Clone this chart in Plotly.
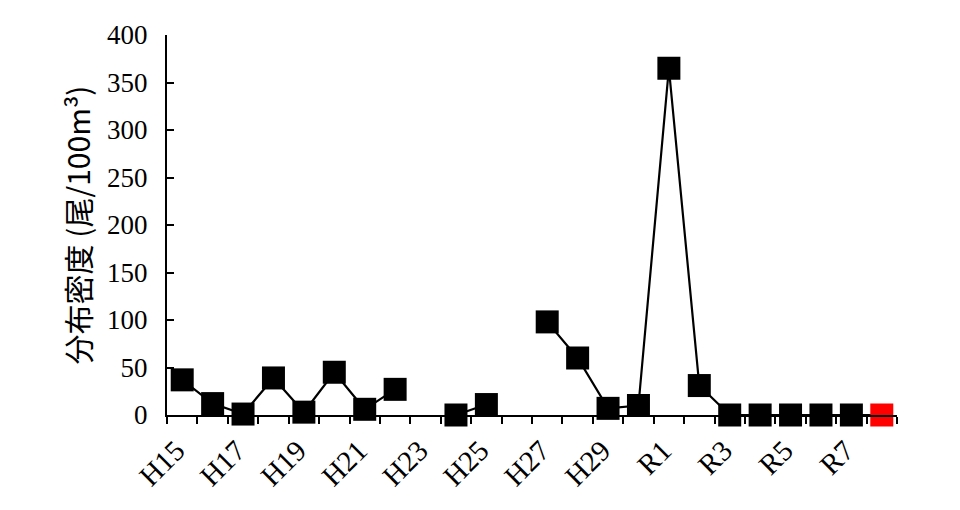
import plotly.graph_objects as go

# 年度（平成15年〜令和8年）
years = ['H15', 'H16', 'H17', 'H18', 'H19', 'H20', 'H21', 'H22', 'H23', 'H24',
         'H25', 'H26', 'H27', 'H28', 'H29', 'H30', 'R1', 'R2', 'R3', 'R4',
         'R5', 'R6', 'R7', 'R8']
# 分布密度（尾/100m3）, None = 調査なし
density = [37, 12, 1, 39, 3, 45, 6, 27, None, 0,
           11, None, 98, 60, 7, 10, 365, 31, 0, 0,
           0, 0, 0, 0]
shown_labels = ['H15', 'H17', 'H19', 'H21', 'H23', 'H25', 'H27', 'H29',
                'R1', 'R3', 'R5', 'R7']

colors = ['black'] * (len(years) - 1) + ['#ff0000']
ticktext = [y if y in shown_labels else '' for y in years]

fig = go.Figure()
fig.add_trace(go.Scatter(
    x=years, y=density,
    mode='lines+markers',
    line=dict(color='black', width=2.2),
    marker=dict(symbol='square', size=23, color=colors, line=dict(width=0)),
    connectgaps=False,
    cliponaxis=False,
    showlegend=False,
))

serif = 'Liberation Serif'
# the page body adds ~8px, so margins are shifted to compensate
fig.update_layout(
    width=960, height=510,
    margin=dict(l=159, r=71, t=27, b=103),
    plot_bgcolor='white', paper_bgcolor='white',
    xaxis=dict(
        type='category', automargin=False,
        tickmode='array', tickvals=years, ticktext=ticktext,
        tickson='boundaries',
        ticks='outside', ticklen=7, tickwidth=2, tickcolor='black',
        tickangle=-45, ticklabelshift=-6, ticklabelstandoff=5,
        tickfont=dict(family=serif, size=29, color='black'),
        showline=True, linecolor='black', linewidth=2,
        showgrid=False, zeroline=False,
        range=[-0.5, len(years) - 0.5],
    ),
    yaxis=dict(
        range=[0, 400], dtick=50, automargin=False,
        ticks='inside', ticklen=7, tickwidth=2, tickcolor='black',
        ticklabelstandoff=12,
        tickfont=dict(family=serif, size=27, color='black'),
        showline=True, linecolor='black', linewidth=2,
        showgrid=False, zeroline=False,
        title=dict(text='分布密度 (尾/100m³)',
                   font=dict(family='Noto Sans CJK JP', size=30, color='black'),
                   standoff=8),
    ),
)

fig.write_html('out.html')
